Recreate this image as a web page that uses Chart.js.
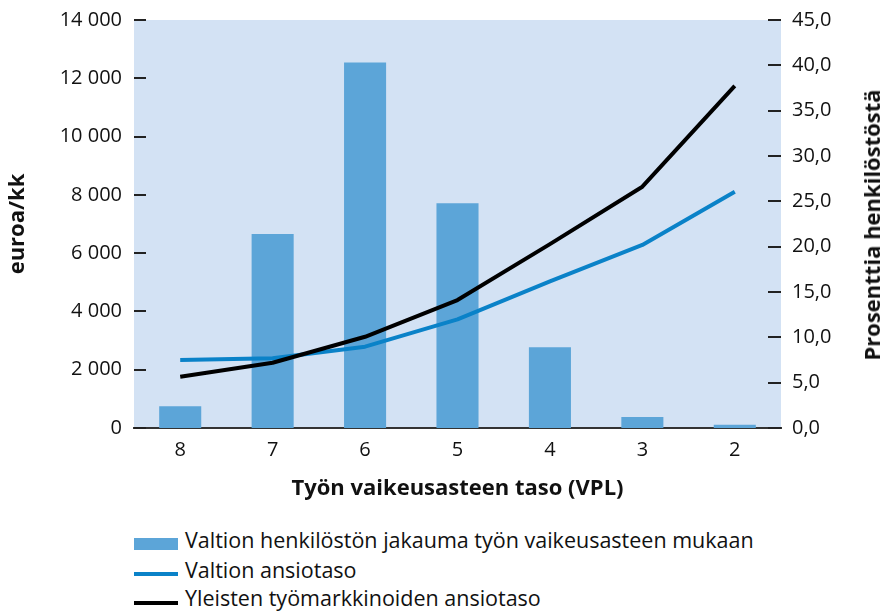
<!DOCTYPE html>
<html>
<head>
<meta charset="utf-8">
<script src="https://cdn.jsdelivr.net/npm/chart.js@4.4.1/dist/chart.umd.min.js"></script>
<style>
  body { margin: 0; background: #fff; font-family: "Open Sans", sans-serif; }
  #wrap { position: relative; width: 882px; height: 614px; }
  #box { position: absolute; left: 0; top: 0; width: 882px; height: 520px; }
  .yTitle2 { position: absolute; left: 871px; top: 225px; font: bold 22px "Open Sans", sans-serif;
             color: #111; white-space: nowrap; transform: translate(-50%, -50%) rotate(-90deg); }
  .leg { position: absolute; left: 134px; font-size: 21.5px; line-height: 20px; color: #111; white-space: nowrap; }
  .leg span.mk { position: absolute; left: 0; width: 44px; }
  .leg span.tx { position: absolute; left: 51px; top: 0; }
</style>
</head>
<body>
<div id="wrap">
  <div id="box"><canvas id="vplChart"></canvas></div>
  <div class="yTitle2">Prosenttia henkilöstöstä</div>
  <div class="leg" style="top:530px"><span class="mk" style="top:8px;height:12px;background:#5ca5d8"></span><span class="tx">Valtion henkilöstön jakauma työn vaikeusasteen mukaan</span></div>
  <div class="leg" style="top:560px"><span class="mk" style="top:12px;height:4px;background:#0a82c8"></span><span class="tx">Valtion ansiotaso</span></div>
  <div class="leg" style="top:588px"><span class="mk" style="top:13px;height:4px;background:#000"></span><span class="tx">Yleisten työmarkkinoiden ansiotaso</span></div>
</div>

<script>
// vaativuustasot (VPL)
const categories = ['8', '7', '6', '5', '4', '3', '2'];
// % henkilöstöstä (oikea akseli)
const jakauma = [2.4, 21.4, 40.3, 24.8, 8.9, 1.2, 0.35];
// euroa/kk (vasen akseli)
const valtionAnsio = [2330, 2390, 2790, 3730, 5030, 6280, 8110];
const yleisetAnsio = [1760, 2240, 3130, 4390, 6310, 8280, 11740];

const leftTicks = [0, 2000, 4000, 6000, 8000, 10000, 12000, 14000];
const rightTicks = [0, 5, 10, 15, 20, 25, 30, 35, 40, 45];

const tickFont = { family: '"Open Sans", sans-serif', size: 20 };

function thousands(v) {
  return String(v).replace(/\B(?=(\d{3})+(?!\d))/g, ' ');
}

// plot background + inward tick marks
const plotDeco = {
  id: 'plotDeco',
  beforeDraw(chart) {
    const a = chart.chartArea, ctx = chart.ctx;
    ctx.save();
    ctx.fillStyle = '#d3e2f4';
    ctx.fillRect(a.left, a.top, a.right - a.left, a.bottom - a.top);
    ctx.restore();
  },
  afterDraw(chart) {
    const a = chart.chartArea, ctx = chart.ctx;
    ctx.save();
    ctx.strokeStyle = '#222';
    ctx.lineWidth = 2;
    chart.scales.y.ticks.forEach(t => {
      const y = Math.round(chart.scales.y.getPixelForValue(t.value));
      ctx.beginPath(); ctx.moveTo(a.left, y); ctx.lineTo(a.left + 12, y); ctx.stroke();
    });
    chart.scales.y1.ticks.forEach(t => {
      const y = Math.round(chart.scales.y1.getPixelForValue(t.value));
      ctx.beginPath(); ctx.moveTo(a.right - 13, y); ctx.lineTo(a.right, y); ctx.stroke();
    });
    ctx.restore();
  }
};

// fixed axis box sizes so the plot area lands where the original has it
function fixVertical(width) {
  return s => { s.width = width; s.paddingTop = 0; s.paddingBottom = 0; };
}

const ctx = document.getElementById('vplChart').getContext('2d');
new Chart(ctx, {
  data: {
    labels: categories,
    datasets: [
      {
        type: 'line', label: 'Valtion ansiotaso', data: valtionAnsio, yAxisID: 'y', order: 1,
        borderColor: '#0a82c8', borderWidth: 4, pointRadius: 0, tension: 0, borderJoinStyle: 'round'
      },
      {
        type: 'line', label: 'Yleisten työmarkkinoiden ansiotaso', data: yleisetAnsio, yAxisID: 'y', order: 0,
        borderColor: '#000', borderWidth: 4, pointRadius: 0, tension: 0, borderJoinStyle: 'round'
      },
      {
        type: 'bar', label: 'Valtion henkilöstön jakauma työn vaikeusasteen mukaan', data: jakauma, yAxisID: 'y1', order: 2,
        backgroundColor: '#5ca5d8', barPercentage: 0.455, categoryPercentage: 1
      }
    ]
  },
  options: {
    responsive: true,
    maintainAspectRatio: false,
    animation: false,
    layout: { padding: { top: 20, left: 0, right: 0, bottom: 0 } },
    plugins: { legend: { display: false }, tooltip: { enabled: false } },
    scales: {
      x: {
        grid: { display: false, drawTicks: false },
        border: { display: true, color: '#333', width: 2 },
        ticks: { color: '#111', font: tickFont, padding: 10 },
        title: {
          display: true, text: 'Työn vaikeusasteen taso (VPL)', color: '#111',
          font: { family: '"Open Sans", sans-serif', size: 22, weight: 'bold', lineHeight: 1.2 },
          padding: { top: 0, bottom: 18 }
        },
        afterFit(s) { s.height = 92; s.paddingLeft = 0; s.paddingRight = 0; }
      },
      y: {
        position: 'left', min: 0, max: 14000,
        afterBuildTicks(s) { s.ticks = leftTicks.map(v => ({ value: v })); },
        grid: { display: false, drawTicks: false },
        border: { display: false },
        ticks: { color: '#111', font: tickFont, padding: 12, callback: v => thousands(v) },
        title: {
          display: true, text: 'euroa/kk', color: '#111',
          font: { family: '"Open Sans", sans-serif', size: 22, weight: 'bold', lineHeight: 1.2 },
          padding: { top: 5, bottom: 0 }
        },
        afterFit: fixVertical(134)
      },
      y1: {
        position: 'right', min: 0, max: 45,
        afterBuildTicks(s) { s.ticks = rightTicks.map(v => ({ value: v })); },
        grid: { display: false, drawTicks: false },
        border: { display: false },
        ticks: { color: '#111', font: tickFont, padding: 11, callback: v => v.toFixed(1).replace('.', ',') },
        afterFit: fixVertical(101)
      }
    }
  },
  plugins: [plotDeco]
});
</script>
</body>
</html>
